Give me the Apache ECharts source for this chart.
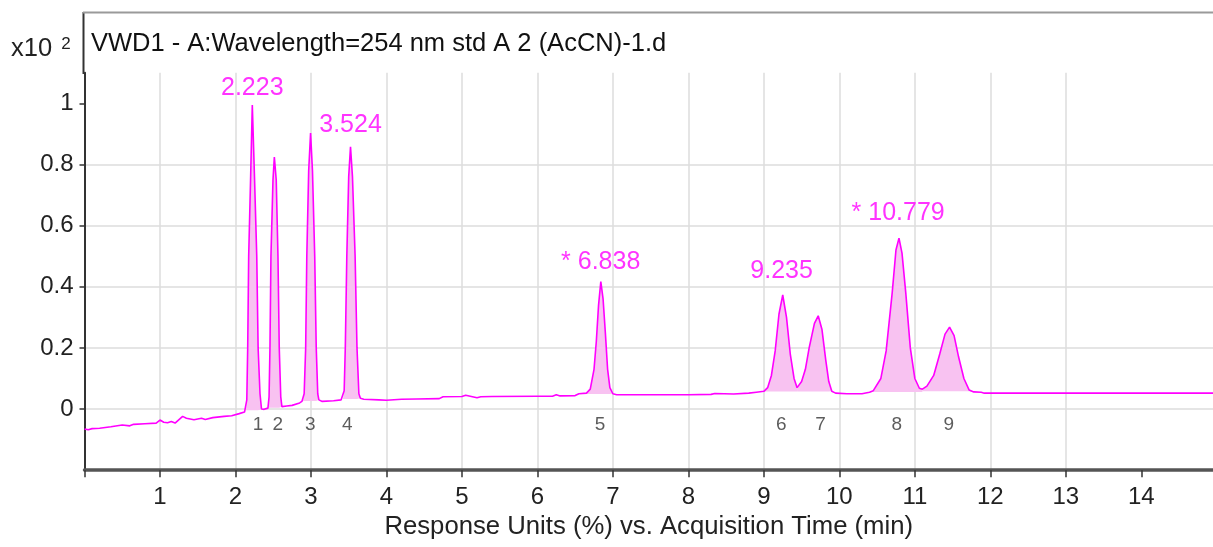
<!DOCTYPE html>
<html>
<head>
<meta charset="utf-8">
<script src="https://cdn.jsdelivr.net/npm/echarts@6/dist/echarts.min.js"></script>
<style>
html,body{margin:0;padding:0;background:#fff;}
#chart{width:1213px;height:547px;}
</style>
</head>
<body>
<div id="chart"></div>
<script>
// Chromatogram trace: time (min) and response (x10^2)
const times = [
  0.0, 0.05, 0.1, 0.2, 0.35, 0.5, 0.6, 0.65, 0.8, 0.95, 1.0, 1.05, 1.1, 1.15, 1.2, 1.3, 1.35, 1.45, 1.55, 1.6, 1.7, 1.85, 1.95, 2.05, 2.12,
  2.14, 2.15, 2.162, 2.175, 2.2, 2.223, 2.253, 2.282, 2.3, 2.325, 2.345, 2.38,
  2.43, 2.445, 2.457, 2.47, 2.497, 2.515, 2.54, 2.563, 2.58, 2.6, 2.615, 2.68, 2.75, 2.85, 2.88,
  2.895, 2.91, 2.93, 2.945, 2.97, 2.995, 3.02, 3.05, 3.07, 3.09, 3.105, 3.15, 3.3, 3.4,
  3.425, 3.44, 3.455, 3.475, 3.5, 3.524, 3.55, 3.585, 3.61, 3.635, 3.655, 3.7, 3.9, 4.0, 4.2, 4.4, 4.7, 4.75, 5.0, 5.05, 5.2, 5.25, 5.4, 6.0, 6.2, 6.25, 6.3, 6.5, 6.55,
  6.65, 6.7, 6.75, 6.78, 6.81, 6.84, 6.87, 6.9, 6.93, 6.96, 7.0, 7.05, 7.5, 8.0, 8.3, 8.35, 8.6, 8.8, 8.9, 9.0,
  9.05, 9.1, 9.15, 9.2, 9.25, 9.3, 9.35, 9.4, 9.44,
  9.5, 9.55, 9.6, 9.67, 9.72, 9.77, 9.82, 9.86, 9.9, 9.95, 10.1, 10.3, 10.4,
  10.45, 10.55, 10.62, 10.7, 10.75, 10.79, 10.83, 10.88, 10.94, 11.0, 11.06, 11.1,
  11.16, 11.25, 11.33, 11.4, 11.46, 11.52, 11.58, 11.65, 11.72, 11.78, 11.88, 11.92, 13.0, 14.95
];
const signal = [
  -0.065, -0.068, -0.064, -0.063, -0.058, -0.052, -0.055, -0.05, -0.048, -0.046, -0.036, -0.043, -0.045, -0.041, -0.046, -0.024, -0.03, -0.035, -0.03, -0.034, -0.028, -0.024, -0.022, -0.015, -0.01,
  -0.005, 0.03, 0.2, 0.5, 0.75, 0.994, 0.75, 0.5, 0.2, 0.05, 0.0, -0.001,
  0.003, 0.04, 0.2, 0.5, 0.75, 0.824, 0.75, 0.5, 0.2, 0.04, 0.008, 0.01, 0.012, 0.02, 0.025,
  0.026, 0.05, 0.2, 0.5, 0.78, 0.903, 0.78, 0.5, 0.2, 0.05, 0.03, 0.025, 0.027, 0.03,
  0.033, 0.06, 0.2, 0.5, 0.76, 0.858, 0.76, 0.5, 0.2, 0.05, 0.035, 0.032, 0.03, 0.029, 0.032, 0.033, 0.034, 0.04, 0.041, 0.045, 0.037, 0.04, 0.041, 0.042, 0.042, 0.047, 0.043, 0.044, 0.05,
  0.052, 0.065, 0.13, 0.22, 0.34, 0.417, 0.36, 0.25, 0.13, 0.07, 0.05, 0.047, 0.047, 0.047, 0.048, 0.051, 0.049, 0.052, 0.055, 0.058,
  0.07, 0.11, 0.19, 0.31, 0.373, 0.3, 0.18, 0.1, 0.07,
  0.09, 0.13, 0.2, 0.28, 0.305, 0.26, 0.16, 0.09, 0.058, 0.052, 0.05, 0.05, 0.055,
  0.06, 0.1, 0.19, 0.38, 0.52, 0.559, 0.51, 0.38, 0.2, 0.1, 0.068, 0.065,
  0.075, 0.11, 0.18, 0.245, 0.268, 0.24, 0.17, 0.1, 0.062, 0.056, 0.055, 0.052, 0.052, 0.052
];

// Integrated peak windows: start, end, baseline level
const peakStart = [2.14, 2.43, 2.895, 3.425, 6.65, 9.0, 9.44, 10.45, 11.1];
const peakEnd   = [2.345, 2.615, 3.105, 3.655, 7.0, 9.44, 9.9, 11.1, 11.78];
const peakBase  = [-0.004, 0.004, 0.026, 0.033, 0.049, 0.057, 0.057, 0.056, 0.058];

// Peak number labels
const peakNumbers = ['1', '2', '3', '4', '5', '6', '7', '8', '9'];
const peakNumX = [2.3, 2.56, 2.99, 3.48, 6.83, 9.23, 9.75, 10.76, 11.45];

// Retention time annotations
const rtText = ['2.223', '3.524', '* 6.838', '9.235', '* 10.779'];
const rtX = [2.223, 3.524, 6.838, 9.235, 10.779];
const rtY = [1.05, 0.93, 0.48, 0.45, 0.64];

// Axis tick values
const xTicks = [0, 1, 2, 3, 4, 5, 6, 7, 8, 9, 10, 11, 12, 13, 14];
const xTickLabels = xTicks.filter(v => v > 0);
const yTicks = [0, 0.2, 0.4, 0.6, 0.8, 1];

const FONT = "'Liberation Sans', Arial, sans-serif";
const MAG = '#ff00ff';

const tracePts = times.map((t, i) => [t, signal[i]]);

const series = [];
peakStart.forEach((s, k) => {
  series.push({
    type: 'line',
    data: tracePts.filter(p => p[0] >= s && p[0] <= peakEnd[k]),
    showSymbol: false,
    silent: true,
    lineStyle: { width: 0 },
    areaStyle: { color: '#f8c2f1', opacity: 1, origin: peakBase[k] },
    z: 2
  });
});
series.push({
  type: 'line',
  data: tracePts,
  showSymbol: false,
  silent: true,
  lineStyle: { color: MAG, width: 1.6 },
  z: 4
});
series.push({
  type: 'scatter',
  symbolSize: 0,
  silent: true,
  data: peakNumX.map((x, i) => ({ value: [x, -0.053], name: peakNumbers[i] })),
  label: { show: true, position: 'inside', formatter: p => p.name, color: '#333', fontSize: 19, fontFamily: FONT },
  z: 5
});
series.push({
  type: 'scatter',
  symbolSize: 0,
  silent: true,
  data: rtX.map((x, i) => ({ value: [x, rtY[i]], name: rtText[i] })),
  label: { show: true, position: 'inside', formatter: p => p.name, color: MAG, fontSize: 25, fontFamily: FONT },
  z: 5
});

const chart = echarts.init(document.getElementById('chart'), null, { renderer: 'canvas' });
chart.setOption({
  animation: false,
  backgroundColor: '#fff',
  title: {
    text: 'VWD1 - A:Wavelength=254 nm std A 2 (AcCN)-1.d',
    left: 86, top: 26,
    textStyle: { fontSize: 25.5, fontWeight: 'normal', color: '#111', fontFamily: FONT }
  },
  grid: { left: 84.5, right: 0, top: 72.7, bottom: 76.8, containLabel: false },
  xAxis: {
    type: 'value', min: 0, max: 14.95, interval: 1,
    name: 'Response Units (%) vs. Acquisition Time (min)',
    nameLocation: 'middle', nameGap: 41,
    nameTextStyle: { fontSize: 25.7, color: '#222', fontFamily: FONT },
    axisLine: { show: true, onZero: false, lineStyle: { color: '#555', width: 3.5 } },
    axisTick: { show: true, length: 7, customValues: xTicks, lineStyle: { color: '#333', width: 1.5 } },
    axisLabel: {
      margin: 15, fontSize: 24, color: '#222', fontFamily: FONT,
      customValues: xTickLabels,
      formatter: v => String(Math.round(v))
    },
    splitLine: { show: true, showMaxLine: false, lineStyle: { color: '#dcdcdc', width: 1.5 } }
  },
  yAxis: {
    type: 'value', min: -0.2, max: 1.1, interval: 0.2,
    axisLine: { show: true, onZero: false, lineStyle: { color: '#333', width: 2 } },
    axisTick: { show: true, length: 5, customValues: yTicks, lineStyle: { color: '#333', width: 1.5 } },
    axisLabel: {
      margin: 11, fontSize: 24, color: '#222', fontFamily: FONT,
      customValues: yTicks,
      formatter: v => {
        const r = Math.round(v * 5);
        if (r === 0) return '0';
        if (r === 5) return '1';
        return (r / 5).toFixed(1);
      }
    },
    splitLine: { show: true, showMaxLine: false, lineStyle: { color: '#dcdcdc', width: 1.5 } }
  },
  graphic: [
    { type: 'line', shape: { x1: 83.5, y1: 12, x2: 83.5, y2: 74 }, style: { stroke: '#333', lineWidth: 2 }, z: 10 },
    { type: 'line', shape: { x1: 83, y1: 12.5, x2: 1213, y2: 12.5 }, style: { stroke: '#9a9a9a', lineWidth: 2 }, z: 10 },
    {
      type: 'text', left: 11, top: 36, z: 10,
      style: {
        text: '{a|x10 }{b|2}',
        rich: {
          a: { fontSize: 25.5, fontFamily: FONT, fill: '#222' },
          b: { fontSize: 17, fontFamily: FONT, fill: '#222', verticalAlign: 'top', padding: [0, 0, 8, 2] }
        }
      }
    }
  ],
  series: series
});
</script>
</body>
</html>
